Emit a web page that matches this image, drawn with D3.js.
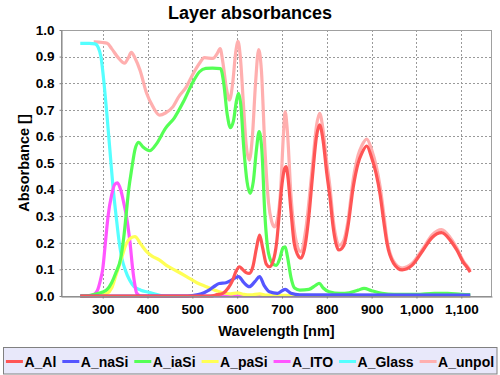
<!DOCTYPE html>
<html>
<head>
<meta charset="utf-8">
<script src="https://cdn.jsdelivr.net/npm/d3@7"></script>
<style>
  body { margin: 0; background: #fff; }
  svg text { font-family: "Liberation Sans", Arial, sans-serif; font-weight: bold; }
</style>
</head>
<body>
<svg id="chart" width="500" height="375"></svg>
<script>
// series values, [wavelength nm, absorbance]
const A_Al = [[250,0],[540,0],[555,0.005],[568,0.01],[580,0.03],[590,0.06],[598,0.095],[605,0.11],[612,0.1],[620,0.088],[627,0.085],[635,0.11],[643,0.18],[650,0.229],[657,0.18],[665,0.12],[672,0.11],[680,0.13],[688,0.2],[694,0.31],[700,0.42],[706,0.48],[709,0.486],[713,0.45],[720,0.32],[727,0.2],[735,0.155],[742,0.142],[750,0.175],[760,0.3],[768,0.449],[777,0.6],[784,0.643],[792,0.58],[800,0.46],[807,0.37],[814,0.26],[820,0.2],[827,0.173],[838,0.19],[847,0.26],[859,0.41],[870,0.5],[878,0.536],[889,0.564],[900,0.52],[910,0.46],[919,0.38],[927,0.28],[934,0.2],[949,0.123],[968,0.098],[990,0.115],[1015,0.173],[1035,0.22],[1056,0.238],[1075,0.21],[1090,0.173],[1105,0.125],[1112,0.11],[1120,0.09]];
const A_naSi = [[250,0],[480,0],[500,0.002],[520,0.008],[535,0.02],[548,0.035],[560,0.047],[575,0.05],[590,0.062],[603,0.073],[615,0.05],[627,0.035],[640,0.055],[650,0.073],[660,0.04],[672,0.016],[690,0.01],[707,0.025],[720,0.01],[740,0.004],[1120,0.003]];
const A_iaSi = [[250,0],[270,0.002],[290,0.01],[300,0.015],[310,0.025],[320,0.05],[330,0.09],[340,0.14],[347,0.22],[352,0.3],[358,0.4],[365,0.48],[372,0.55],[380,0.578],[390,0.56],[405,0.546],[420,0.572],[440,0.63],[460,0.67],[480,0.73],[500,0.8],[516,0.843],[530,0.856],[545,0.857],[563,0.855],[570,0.8],[578,0.68],[585,0.633],[592,0.66],[598,0.73],[603,0.762],[608,0.72],[615,0.55],[622,0.43],[629,0.386],[636,0.43],[643,0.55],[649,0.618],[655,0.55],[662,0.3],[670,0.16],[680,0.12],[687,0.115],[695,0.14],[702,0.18],[707,0.185],[712,0.15],[720,0.07],[728,0.03],[740,0.022],[760,0.025],[775,0.04],[783,0.048],[792,0.03],[805,0.016],[830,0.01],[850,0.012],[870,0.022],[883,0.029],[900,0.02],[923,0.01],[950,0.006],[1000,0.006],[1040,0.01],[1070,0.01],[1100,0.006],[1120,0.005]];
const A_paSi = [[250,0],[290,0.002],[310,0.01],[320,0.03],[330,0.08],[342,0.142],[353,0.198],[362,0.218],[372,0.223],[385,0.195],[398,0.167],[410,0.15],[427,0.135],[445,0.112],[464,0.095],[487,0.073],[510,0.05],[531,0.035],[550,0.022],[568,0.012],[585,0.008],[601,0.012],[615,0.006],[630,0.004],[650,0.008],[665,0.003],[700,0.002],[1120,0]];
const A_ITO = [[250,0],[270,0],[280,0.005],[288,0.02],[295,0.06],[300,0.1],[306,0.2],[312,0.3],[320,0.38],[327,0.42],[333,0.425],[340,0.4],[347,0.35],[353,0.3],[361,0.2],[367,0.1],[372,0.04],[376,0.01],[385,0],[1120,0]];
const A_Glass = [[250,0.95],[270,0.95],[283,0.948],[290,0.935],[296,0.9],[303,0.8],[309,0.69],[316,0.55],[323,0.41],[330,0.3],[337,0.2],[343,0.14],[350,0.1],[360,0.06],[370,0.035],[385,0.022],[400,0.015],[415,0.008],[430,0.002],[450,0],[1120,0]];
const A_unpol = [[280,0.955],[300,0.953],[310,0.95],[320,0.93],[335,0.895],[349,0.875],[357,0.895],[364,0.916],[372,0.895],[383,0.85],[398,0.762],[412,0.712],[427,0.68],[440,0.688],[457,0.712],[470,0.75],[487,0.787],[500,0.83],[516,0.875],[527,0.896],[546,0.893],[555,0.91],[562,0.93],[568,0.88],[576,0.78],[583,0.737],[590,0.8],[597,0.92],[602,0.957],[607,0.9],[614,0.72],[620,0.57],[627,0.511],[634,0.6],[641,0.8],[648,0.926],[654,0.85],[662,0.55],[670,0.35],[677,0.28],[683,0.26],[690,0.29],[697,0.4],[703,0.6],[707,0.693],[712,0.62],[720,0.38],[730,0.22],[742,0.167],[753,0.25],[768,0.49],[777,0.64],[784,0.687],[792,0.62],[800,0.5],[807,0.41],[814,0.29],[820,0.225],[827,0.19],[838,0.21],[847,0.28],[859,0.44],[870,0.53],[878,0.565],[889,0.59],[900,0.55],[910,0.49],[919,0.41],[927,0.31],[934,0.215],[949,0.13],[968,0.105],[990,0.122],[1015,0.18],[1035,0.23],[1056,0.25],[1075,0.22],[1090,0.18],[1105,0.13],[1112,0.115],[1120,0.095]];

const seriesNames = ['A_Al', 'A_naSi', 'A_iaSi', 'A_paSi', 'A_ITO', 'A_Glass', 'A_unpol'];
const seriesData = [A_Al, A_naSi, A_iaSi, A_paSi, A_ITO, A_Glass, A_unpol];
const seriesColors = ['#ff5555', '#5555ff', '#55ff55', '#ffff55', '#ff55ff', '#55ffff', '#ffafaf'];
const xTicks = [300, 400, 500, 600, 700, 800, 900, 1000, 1100];
const yTicks = [0, 0.1, 0.2, 0.3, 0.4, 0.5, 0.6, 0.7, 0.8, 0.9, 1.0];

const svg = d3.select('#chart');
const plot = { left: 61, top: 30, right: 492, bottom: 296 };

const x = d3.scaleLinear().domain([207, 1168.5]).range([plot.left, plot.right]);
const y = d3.scaleLinear().domain([0, 1]).range([plot.bottom, plot.top]);

// title
svg.append('text')
	.attr('x', 250).attr('y', 19)
	.attr('text-anchor', 'middle')
	.style('font-size', '18px')
	.text('Layer absorbances');

// plot background + grid
svg.append('rect')
	.attr('x', plot.left).attr('y', plot.top)
	.attr('width', plot.right - plot.left).attr('height', plot.bottom - plot.top)
	.attr('fill', '#fff');

const grid = svg.append('g')
	.attr('stroke', '#9a9a9a')
	.attr('stroke-width', 1)
	.attr('stroke-dasharray', '2,2');
grid.selectAll('line.gx')
	.data(xTicks)
	.enter()
	.append('line')
	.attr('x1', d => Math.round(x(d)) + 0.5).attr('x2', d => Math.round(x(d)) + 0.5)
	.attr('y1', plot.top).attr('y2', plot.bottom);
grid.selectAll('line.gy')
	.data(yTicks)
	.enter()
	.append('line')
	.attr('x1', plot.left).attr('x2', plot.right)
	.attr('y1', d => Math.round(y(d)) + 0.5).attr('y2', d => Math.round(y(d)) + 0.5);

// lines, drawn last series first so A_Al ends on top
const line = d3.line()
	.x(d => x(d[0]))
	.y(d => y(d[1]))
	.curve(d3.curveMonotoneX);
const order = d3.range(seriesData.length).reverse();
svg.append('g')
	.selectAll('path')
	.data(order)
	.enter()
	.append('path')
	.attr('d', i => line(seriesData[i]))
	.attr('fill', 'none')
	.attr('stroke', i => seriesColors[i])
	.attr('stroke-width', 3.2)
	.attr('stroke-linejoin', 'round');

// plot outline
svg.append('rect')
	.attr('x', plot.left + 0.5).attr('y', plot.top + 0.5)
	.attr('width', plot.right - plot.left - 1).attr('height', plot.bottom - plot.top)
	.attr('fill', 'none')
	.attr('stroke', '#a0a0a0');

// axes
const xAxis = d3.axisBottom(x)
	.tickValues(xTicks)
	.tickFormat(d3.format(','))
	.tickSizeInner(2)
	.tickSizeOuter(0)
	.tickPadding(6);
const xAxisGroup = svg.append('g')
	.attr('transform', `translate(0, ${plot.bottom + 0.5})`)
	.call(xAxis);
const yAxis = d3.axisLeft(y)
	.tickValues(yTicks)
	.tickFormat(d3.format('.1f'))
	.tickSizeInner(2)
	.tickSizeOuter(0)
	.tickPadding(5);
const yAxisGroup = svg.append('g')
	.attr('transform', `translate(${plot.left + 0.5}, 0)`)
	.call(yAxis);
for (const g of [xAxisGroup, yAxisGroup]) {
	g.selectAll('.domain').attr('stroke', '#808080');
	g.selectAll('.tick line').attr('stroke', '#808080');
	g.selectAll('.tick text')
		.attr('fill', '#000')
		.style('font-size', '13.5px')
		.style('font-family', '"Liberation Sans", Arial, sans-serif')
		.style('font-weight', 'bold');
}

// axis labels
svg.append('text')
	.attr('x', (plot.left + plot.right) / 2).attr('y', 336)
	.attr('text-anchor', 'middle')
	.style('font-size', '14.5px')
	.text('Wavelength [nm]');
svg.append('text')
	.attr('transform', `translate(29, ${(plot.top + plot.bottom) / 2}) rotate(-90)`)
	.attr('text-anchor', 'middle')
	.style('font-size', '14.5px')
	.text('Absorbance []');

// legend
svg.append('rect')
	.attr('x', 3.5).attr('y', 347.5)
	.attr('width', 493.5).attr('height', 26.5)
	.attr('fill', '#e8e8fa')
	.attr('stroke', '#808080');
const legend = svg.append('g');
const items = legend.selectAll('g')
	.data(seriesNames)
	.enter()
	.append('g');
items.append('line')
	.attr('x1', 0).attr('x2', 17)
	.attr('y1', 361.5).attr('y2', 361.5)
	.attr('stroke', (d, i) => seriesColors[i])
	.attr('stroke-width', 3);
items.append('text')
	.attr('x', 18.5).attr('y', 366.5)
	.style('font-size', '14px')
	.text(d => d);
let widths = [];
items.selectAll('text').each(function() { widths.push(this.getComputedTextLength()); });
const gap = 6;
const total = d3.sum(widths, w => 18.5 + w) + gap * (widths.length - 1);
let cursor = 250 - total / 2;
items.attr('transform', (d, i) => {
	const t = `translate(${cursor}, 0)`;
	cursor += 18.5 + widths[i] + gap;
	return t;
});
</script>
</body>
</html>
